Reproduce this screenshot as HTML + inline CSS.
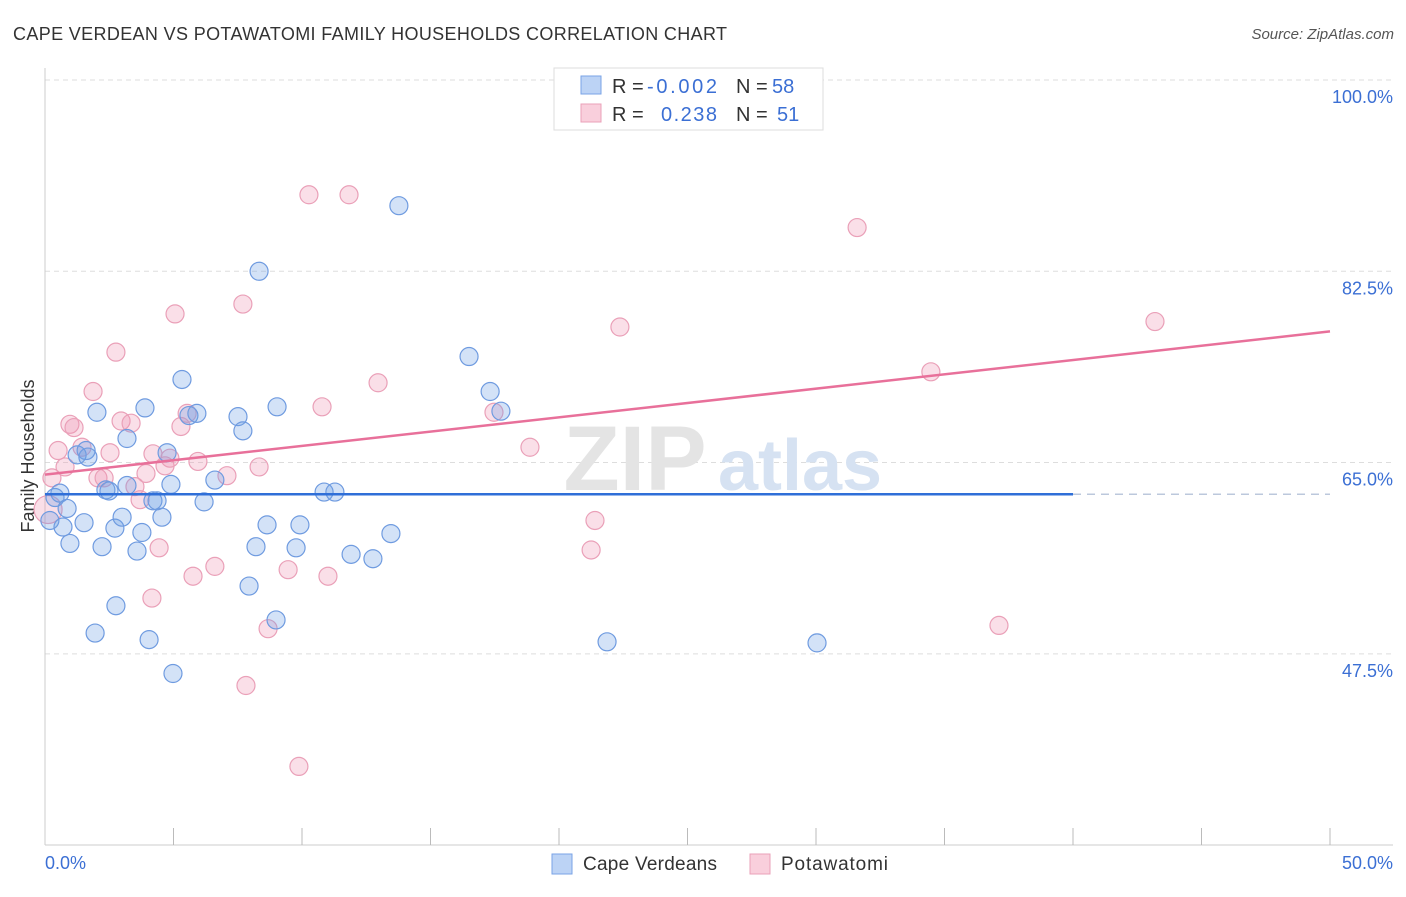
<!DOCTYPE html>
<html><head><meta charset="utf-8"><style>
body{margin:0;background:#fff;font-family:"Liberation Sans",sans-serif;}
svg text{font-family:"Liberation Sans",sans-serif;}
</style></head><body>
<svg width="1406" height="892" viewBox="0 0 1406 892">
<text x="13" y="40" font-size="18" fill="#333" textLength="714">CAPE VERDEAN VS POTAWATOMI FAMILY HOUSEHOLDS CORRELATION CHART</text>
<text x="1394" y="39" font-size="15" fill="#555" text-anchor="end" font-style="italic">Source: ZipAtlas.com</text>
<g id="grid"></g>
<g>
<text x="635" y="490" font-size="92" fill="#e4e4e4" text-anchor="middle" font-family="Liberation Serif" font-weight="bold">ZIP</text>
<text x="800" y="490" font-size="72" fill="#d6e2f2" text-anchor="middle" font-weight="bold">atlas</text>
</g>
<line x1="45" y1="68" x2="45" y2="845" stroke="#ccc"/>
<line x1="45" y1="845" x2="1393" y2="845" stroke="#ccc"/>
<g id="xticks"></g>
<g id="ylabels"></g>
<text x="45" y="869" font-size="18" fill="#3b6fd4">0.0%</text>
<text x="1393" y="869" font-size="18" fill="#3b6fd4" text-anchor="end">50.0%</text>
<text transform="translate(34,456) rotate(-90)" font-size="18" fill="#333" text-anchor="middle">Family Households</text>
<g id="pts"></g>
<g id="trends"></g>
<g>
<rect x="554" y="68" width="269" height="62" fill="#fff" stroke="#ddd"/>
<rect x="581" y="76" width="20" height="18" fill="#bcd3f5" stroke="#7aa3e6"/>
<rect x="581" y="104" width="20" height="18" fill="#f9cfdc" stroke="#eaa0b8"/>
<text x="612" y="93" font-size="20" fill="#333">R =</text><text x="647" y="93" font-size="20" fill="#3b6fd4" textLength="70">-0.002</text>
<text x="736" y="93" font-size="20" fill="#333">N =</text><text x="772" y="93" font-size="20" fill="#3b6fd4">58</text>
<text x="612" y="121" font-size="20" fill="#333">R =</text><text x="661" y="121" font-size="20" fill="#3b6fd4" textLength="56">0.238</text>
<text x="736" y="121" font-size="20" fill="#333">N =</text><text x="777" y="121" font-size="20" fill="#3b6fd4">51</text>
</g>
<g>
<rect x="552" y="854" width="20" height="20" fill="#bcd3f5" stroke="#7aa3e6"/>
<text x="583" y="870" font-size="19" fill="#333" textLength="134">Cape Verdeans</text>
<rect x="750" y="854" width="20" height="20" fill="#f9cfdc" stroke="#eaa0b8"/>
<text x="781" y="870" font-size="19" fill="#333" textLength="107">Potawatomi</text>
</g>
</svg>
<script>
const yTicks=[100,82.5,65,47.5];
const yTickLabels=["100.0%","82.5%","65.0%","47.5%"];
const xTicks=[5,10,15,20,25,30,35,40,45,50];
const blueX=[0.19,0.39,0.58,0.86,0.70,0.97,1.25,1.52,1.67,1.60,1.95,2.02,2.22,2.37,2.49,2.76,2.72,3.00,3.19,3.19,3.58,3.77,3.89,4.05,4.20,4.36,4.55,4.75,4.90,4.98,5.33,5.60,5.91,6.19,6.61,7.51,7.70,7.94,8.21,8.33,8.64,8.99,9.03,9.77,9.92,10.86,11.28,11.91,12.76,13.46,13.77,16.50,17.32,17.74,21.87,30.04];
const blueY=[59.7,61.8,62.2,60.8,59.1,57.6,65.7,59.5,65.5,66.1,49.4,69.6,57.3,62.5,62.4,51.9,59.0,60.0,67.2,62.9,56.9,58.6,70.0,48.8,61.5,61.5,60.0,65.9,63.0,45.7,72.6,69.3,69.5,61.4,63.4,69.2,67.9,53.7,57.3,82.5,59.3,50.6,70.1,57.2,59.3,62.3,62.3,56.6,56.2,58.5,88.5,74.7,71.5,69.7,48.6,48.5];
const pinkX=[0.12,0.27,0.51,0.78,0.97,1.13,1.44,1.87,2.06,2.30,2.53,2.76,2.96,3.35,3.50,3.70,3.93,4.16,4.20,4.44,4.67,4.86,5.06,5.29,5.53,5.76,5.95,6.61,7.08,7.70,7.82,8.33,8.68,9.46,9.88,10.27,10.78,11.01,11.83,12.96,17.47,18.87,21.25,21.40,22.37,31.60,34.47,37.12,43.19];
const pinkY=[60.7,63.6,66.1,64.6,68.5,68.2,66.4,71.5,63.6,63.6,65.9,75.1,68.8,68.6,62.8,61.6,64.0,52.6,65.8,57.2,64.7,65.4,78.6,68.3,69.5,54.6,65.1,55.5,63.8,79.5,44.6,64.6,49.8,55.2,37.2,89.5,70.1,54.6,89.5,72.3,69.6,66.4,57.0,59.7,77.4,86.5,73.3,50.1,77.9];
const blueTrend=[62.1,62.1];
const blueTrendEndX=40;
const pinkTrend=[63.9,77.0];

const NS="http://www.w3.org/2000/svg";
function sx(v){return 45+v*25.7;}
function sy(v){return 80+(100-v)*10.93;}
function mk(tag,attrs,parent){const e=document.createElementNS(NS,tag);for(const k in attrs)e.setAttribute(k,attrs[k]);parent.appendChild(e);return e;}
const grid=document.getElementById('grid'),yl=document.getElementById('ylabels'),xt=document.getElementById('xticks');
yTicks.forEach((t,i)=>{
 const l=mk('line',{x1:45,x2:1393,y1:sy(t),y2:sy(t),stroke:'#ddd','stroke-dasharray':'5,4'},grid);
 
 
 const tx=mk('text',{x:1393,y:sy(t)+23,'font-size':18,fill:'#3b6fd4','text-anchor':'end'},yl);
 tx.textContent=yTickLabels[i];
 
 
});
xTicks.forEach(t=>{
 const l=mk('line',{x1:sx(t),x2:sx(t),y1:828,y2:845,stroke:'#bbb'},xt);
 
 
});
const pts=document.getElementById('pts');
pinkX.forEach((x,i)=>{
 const c=mk('circle',{cx:sx(x),cy:sy(pinkY[i]),r:i==0?14:9,fill:'rgba(240,150,180,0.3)',stroke:'#eaa0b8','stroke-width':1.2},pts);
 
 
});
blueX.forEach((x,i)=>{
 const c=mk('circle',{cx:sx(x),cy:sy(blueY[i]),r:9,fill:'rgba(110,160,230,0.3)',stroke:'#6f9be0','stroke-width':1.2},pts);
 
 
});
const tr=document.getElementById('trends');
const bl=mk('line',{x1:sx(0),y1:sy(blueTrend[0]),x2:sx(blueTrendEndX),y2:sy(blueTrend[1]),stroke:'#2f6fd8','stroke-width':2.5},tr);


const bd=mk('line',{x1:sx(blueTrendEndX),y1:sy(blueTrend[1]),x2:sx(50),y2:sy(blueTrend[1]),stroke:'#bcc8dc','stroke-width':1.5,'stroke-dasharray':'8,6'},tr);


const pl=mk('line',{x1:sx(0),y1:sy(pinkTrend[0]),x2:sx(50),y2:sy(pinkTrend[1]),stroke:'#e8709a','stroke-width':2.5},tr);


</script>
</body></html>
